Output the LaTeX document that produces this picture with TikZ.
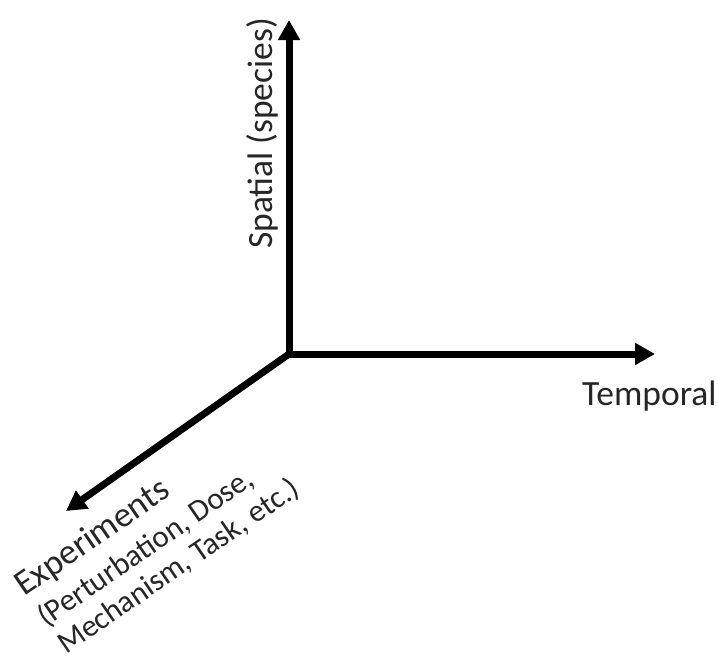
\documentclass[tikz,border=0pt]{standalone}
\usepackage{fontspec}
\setmainfont{Carlito}
\usetikzlibrary{arrows.meta}
\tikzset{
  axis/.style={line width=7pt, -{Triangle[length=20pt,width=21pt]}},
  lbl/.style={inner sep=0pt, font=\fontsize{35.5}{37.5}\selectfont, text=black!85},
  sublbl/.style={inner sep=0pt, font=\fontsize{31}{34}\selectfont, text=black!85},
}
\begin{document}
\begin{tikzpicture}[x=1pt,y=-1pt]
\useasboundingbox (0,0) rectangle (718,659);
\coordinate (O) at (289,354);
\coordinate (Ytip) at (289,20);
\coordinate (Xtip) at (655,354);
\coordinate (Ztip) at (66,511);
\draw[axis] (O) -- (Ztip);
\draw[axis, line cap=rect] (O) -- (Ytip);
\draw[axis, line cap=rect] (O) -- (Xtip);
\node[lbl, anchor=base west] (temporal) at (582,405) {Temporal};
\node[lbl, anchor=base west, rotate=90] (spatial) at (272,249) {Spatial (species)};
\node[lbl, anchor=base west, rotate=34.5] (exp1) at (24,597) {Experiments};
\node[sublbl, anchor=base west, rotate=34.5] (exp2) at (46,628) {(Perturbation, Dose,};
\node[sublbl, anchor=base west, rotate=34.5] (exp3) at (66,655) {Mechanism, Task, etc.)};
\end{tikzpicture}
\end{document}
